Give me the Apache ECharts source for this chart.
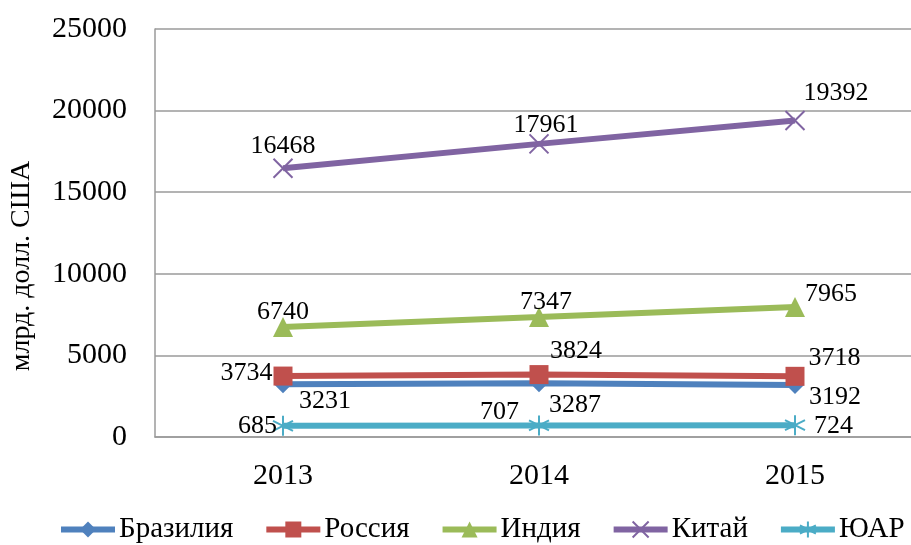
<!DOCTYPE html>
<html><head><meta charset="utf-8">
<script src="https://cdn.jsdelivr.net/npm/echarts@6/dist/echarts.min.js"></script>
<style>html,body{margin:0;padding:0;background:#fff}#c{width:911px;height:545px}</style>
</head><body><div id="c"></div>
<script>
const years = ['2013', '2014', '2015'];
const brazil = [3231, 3287, 3192];
const russia = [3734, 3824, 3718];
const india = [6740, 7347, 7965];
const china = [16468, 17961, 19392];
const sa = [685, 707, 724];
const yTicks = { min: 0, max: 25000, interval: 5000 };
const axisName = 'млрд. долл. США';

const FONT = '"Liberation Serif", "Times New Roman", serif';
const crossPath = 'path://M0,0L10,10M10,0L0,10';
const starPath = 'path://M5,0L5,10M0.7,2.5L9.3,7.5M0.7,7.5L9.3,2.5';

function lbl(pos, off) { return { label: { show: true, position: pos, offset: off } }; }
function mk(vals, cfgs) { return vals.map((v, i) => Object.assign({ value: v }, cfgs[i])); }

const chart = echarts.init(document.getElementById('c'));
const baseLabel = { show: true, color: '#000', fontFamily: FONT, fontSize: 26 };
chart.setOption({
  animation: false,
  backgroundColor: '#fff',
  grid: { left: 155, top: 29, width: 768, height: 408, outerBoundsMode: 'none', containLabel: false },
  legend: {
    top: 515, left: 58, width: 852, padding: 0, itemGap: 30, itemWidth: 54, itemHeight: 20,
    lineStyle: { width: 6 },
    textStyle: { fontFamily: FONT, fontSize: 29, color: '#000', padding: [0, 0, 0, -1] },
    data: ['Бразилия', 'Россия', 'Индия', 'Китай', 'ЮАР']
  },
  xAxis: {
    type: 'category', data: years, boundaryGap: true,
    axisLine: { lineStyle: { color: '#9a9a9a', width: 1.5 } },
    axisTick: { show: false },
    axisLabel: { fontFamily: FONT, fontSize: 30, color: '#000', margin: 24 }
  },
  yAxis: {
    type: 'value', min: yTicks.min, max: yTicks.max, interval: yTicks.interval,
    axisLine: { show: true, lineStyle: { color: '#9a9a9a', width: 1.5 } },
    axisTick: { show: false },
    splitLine: { lineStyle: { color: '#9a9a9a', width: 1.5 } },
    axisLabel: { fontFamily: FONT, fontSize: 30, color: '#000', margin: 28, formatter: v => String(v) }
  },
  graphic: [{
    type: 'text', x: 22, y: 266, rotation: Math.PI / 2,
    style: { text: axisName, font: '28px ' + FONT, fill: '#000', align: 'center', verticalAlign: 'middle' }
  }],
  series: [
    {
      name: 'Бразилия', type: 'line', symbol: 'diamond', symbolSize: 18,
      lineStyle: { width: 6, color: '#4F81BD' }, itemStyle: { color: '#4F81BD' },
      label: baseLabel,
      data: mk(brazil, [lbl('right', [2, 17]), lbl('right', [-4, 22]), lbl('right', [0, 12])])
    },
    {
      name: 'Россия', type: 'line', symbol: 'rect', symbolSize: 19,
      lineStyle: { width: 6, color: '#C0504D' }, itemStyle: { color: '#C0504D' },
      label: baseLabel,
      data: mk(russia, [lbl('left', [4, -3]), lbl('top', [37, 4]), lbl('right', [-1, -18])])
    },
    {
      name: 'Индия', type: 'line', symbol: 'triangle', symbolSize: 20,
      lineStyle: { width: 6, color: '#9BBB59' }, itemStyle: { color: '#9BBB59' },
      label: baseLabel,
      data: mk(india, [lbl('top', [0, 13]), lbl('top', [7, 13]), lbl('right', [-5, -13])])
    },
    {
      name: 'Китай', type: 'line', symbol: crossPath, symbolSize: 19,
      lineStyle: { width: 6, color: '#8064A2' },
      itemStyle: { color: '#8064A2', borderColor: '#8064A2', borderWidth: 2 },
      label: baseLabel,
      data: mk(china, [lbl('top', [0, 6]), lbl('top', [7, 10]), lbl('top', [41, 1])])
    },
    {
      name: 'ЮАР', type: 'line', symbol: starPath, symbolSize: 20,
      lineStyle: { width: 6, color: '#4BACC6' },
      itemStyle: { color: '#4BACC6', borderColor: '#4BACC6', borderWidth: 2 },
      label: baseLabel,
      data: mk(sa, [lbl('left', [10, 0]), lbl('left', [-4, -13]), lbl('right', [3, 1])])
    }
  ]
});
</script></body></html>
